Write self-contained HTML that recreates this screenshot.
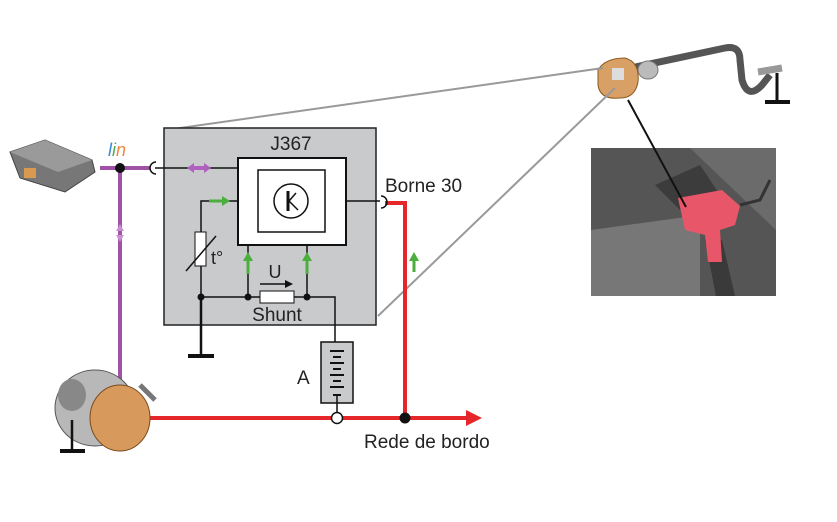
<!DOCTYPE html>
<html><head><meta charset="utf-8"><style>
html,body{margin:0;padding:0;background:#fff;width:837px;height:522px;overflow:hidden}
svg{display:block}
text{font-family:"Liberation Sans",sans-serif;fill:#222}
</style></head><body>
<svg width="837" height="522" viewBox="0 0 837 522" xmlns="http://www.w3.org/2000/svg">
<!-- battery photo -->
<rect x="591" y="148" width="185" height="148" fill="#6b6b6b"/>
<path d="M591,148 L690,148 L776,230 L776,296 L591,296 Z" fill="#555"/>
<path d="M591,230 L700,215 L700,296 L591,296Z" fill="#777"/>
<path d="M655,185 L700,165 L720,195 L680,210Z" fill="#3c3c3c"/>
<path d="M705,240 L722,240 L735,296 L716,296Z" fill="#3a3a3a"/>
<path d="M678,198 L722,190 L740,206 L735,225 L720,230 L722,262 L708,262 L705,235 L685,230Z" fill="#e8566a"/>
<path d="M740,205 L760,200 L770,180" stroke="#333" stroke-width="3" fill="none"/>
<!-- top cable -->
<path d="M612,72 L725,48 Q740,45 740,60 L742,80 Q748,100 762,85 L770,75" stroke="#555" stroke-width="7" fill="none"/>
<path d="M758,72 L782,68" stroke="#999" stroke-width="7"/>
<line x1="777" y1="73" x2="777" y2="102" stroke="#111" stroke-width="3"/>
<line x1="765" y1="102" x2="790" y2="102" stroke="#111" stroke-width="4"/>
<ellipse cx="648" cy="70" rx="10" ry="9" fill="#bbb" stroke="#777"/>
<path d="M598,70 Q605,58 625,58 Q640,62 638,82 Q635,98 620,98 Q600,100 598,85Z" fill="#d9a066" stroke="#8a5a20"/>
<rect x="612" y="68" width="12" height="12" fill="#ddd"/>
<!-- gray lines -->
<line x1="166" y1="130" x2="603" y2="68" stroke="#999" stroke-width="2"/>
<line x1="378" y1="316" x2="615" y2="88" stroke="#999" stroke-width="2"/>
<line x1="628" y1="100" x2="686" y2="207" stroke="#111" stroke-width="2"/>
<!-- main box -->
<rect x="164" y="128" width="212" height="197" fill="#c9cacc" stroke="#222" stroke-width="1.5"/>
<text x="291" y="150" font-size="19" text-anchor="middle">J367</text>
<rect x="238" y="158" width="108" height="87" fill="#fff" stroke="#111" stroke-width="2"/>
<rect x="258" y="170" width="67" height="62" fill="#fff" stroke="#111" stroke-width="1.5"/>
<circle cx="291" cy="201" r="17" fill="#fff" stroke="#111" stroke-width="1.5"/>
<line x1="288" y1="191" x2="288" y2="211" stroke="#111" stroke-width="3"/>
<path d="M289,201 L296,193 M289,201 L298,210" stroke="#111" stroke-width="1.5"/>
<!-- lin -->
<line x1="100" y1="168" x2="150" y2="168" stroke="#a052a6" stroke-width="4"/>
<line x1="120" y1="168" x2="120" y2="400" stroke="#a052a6" stroke-width="4"/>
<path d="M116,231 L120,224 L124,231 Z M116,235 L120,242 L124,235Z" fill="#c890d0"/>
<circle cx="120" cy="168" r="5" fill="#111"/>
<text x="108" y="156" font-size="18" font-style="italic" font-family="Liberation Serif,serif" style="fill:#3a8ad6">l<tspan style="fill:#5a5">i</tspan><tspan style="fill:#e84">n</tspan></text>
<path d="M156,162 A6,6 0 0 0 156,174" stroke="#111" fill="none" stroke-width="1.5"/>
<line x1="155" y1="168" x2="238" y2="168" stroke="#111" stroke-width="1.5"/>
<path d="M187,168 L194,163 L194,173Z M211,168 L204,163 L204,173Z" fill="#b060c0"/>
<rect x="193" y="166" width="12" height="4" fill="#b060c0"/>
<!-- thermistor -->
<polyline points="238,201 201,201 201,297" stroke="#111" fill="none" stroke-width="1.5"/>
<line x1="209" y1="201" x2="223" y2="201" stroke="#4cae3c" stroke-width="3"/>
<path d="M222,196 L230,201 L222,206Z" fill="#4cae3c"/>
<rect x="195" y="232" width="11" height="34" fill="#fff" stroke="#111"/>
<line x1="186" y1="271" x2="216" y2="236" stroke="#111" stroke-width="1.5"/>
<text x="211" y="264" font-size="18">t°</text>
<!-- shunt -->
<polyline points="201,297 335,297 335,342" stroke="#111" fill="none" stroke-width="1.5"/>
<rect x="260" y="291" width="34" height="12" fill="#fff" stroke="#111"/>
<line x1="248" y1="297" x2="248" y2="245" stroke="#111" stroke-width="1.5"/>
<line x1="307" y1="297" x2="307" y2="245" stroke="#111" stroke-width="1.5"/>
<line x1="248" y1="274" x2="248" y2="260" stroke="#4cae3c" stroke-width="3"/>
<path d="M243,261 L248,252 L253,261Z" fill="#4cae3c"/>
<line x1="307" y1="274" x2="307" y2="260" stroke="#4cae3c" stroke-width="3"/>
<path d="M302,261 L307,252 L312,261Z" fill="#4cae3c"/>
<circle cx="201" cy="297" r="3.5" fill="#111"/><circle cx="248" cy="297" r="3.5" fill="#111"/><circle cx="307" cy="297" r="3.5" fill="#111"/>
<text x="275" y="278" font-size="18" text-anchor="middle">U</text>
<line x1="260" y1="284" x2="286" y2="284" stroke="#111" stroke-width="1.5"/><path d="M285,280 L293,284 L285,288Z" fill="#111"/>
<text x="277" y="321" font-size="19" text-anchor="middle">Shunt</text>
<!-- ground -->
<line x1="201" y1="297" x2="201" y2="355" stroke="#111" stroke-width="2.5"/>
<line x1="188" y1="356" x2="214" y2="356" stroke="#111" stroke-width="4"/>
<!-- battery -->
<rect x="321" y="342" width="32" height="61" fill="#c9cacc" stroke="#111" stroke-width="1.5"/>
<g stroke="#111" stroke-width="2">
<line x1="330" y1="351" x2="344" y2="351"/><line x1="333" y1="357" x2="341" y2="357"/>
<line x1="330" y1="363" x2="344" y2="363"/><line x1="333" y1="369" x2="341" y2="369"/>
<line x1="330" y1="375" x2="344" y2="375"/><line x1="333" y1="381" x2="341" y2="381"/>
<line x1="330" y1="387" x2="344" y2="387"/><line x1="333" y1="395" x2="341" y2="395"/>
</g>
<text x="297" y="384" font-size="19">A</text>
<line x1="337" y1="395" x2="337" y2="413" stroke="#111" stroke-width="1.5"/>
<!-- red -->
<polyline points="385,203 405,203 405,418" stroke="#e5262a" fill="none" stroke-width="4"/>
<line x1="145" y1="418" x2="470" y2="418" stroke="#e5262a" stroke-width="4"/>
<path d="M466,410 L482,418 L466,426Z" fill="#e5262a"/>
<circle cx="405" cy="418" r="5.5" fill="#111"/>
<circle cx="337" cy="418" r="5.5" fill="#fff" stroke="#111" stroke-width="1.5"/>
<line x1="346" y1="201" x2="380" y2="201" stroke="#111" stroke-width="1.5"/>
<path d="M381,196 A6,6 0 0 1 381,208" stroke="#111" fill="none" stroke-width="1.5"/>
<line x1="414" y1="272" x2="414" y2="260" stroke="#4cae3c" stroke-width="3"/>
<path d="M409,261 L414,252 L419,261Z" fill="#4cae3c"/>
<text x="385" y="192" font-size="19">Borne 30</text>
<text x="364" y="448" font-size="19">Rede de bordo</text>
<!-- ECU -->
<path d="M10,152 L45,140 L92,160 L95,172 L65,192 L20,178 Z" fill="#777" stroke="#444"/>
<path d="M10,152 L45,140 L92,160 L58,172Z" fill="#9a9a9a"/>
<rect x="24" y="168" width="12" height="10" fill="#d89a50"/>
<!-- alternator -->
<ellipse cx="95" cy="408" rx="40" ry="38" fill="#b8b8b8" stroke="#555"/>
<ellipse cx="72" cy="395" rx="14" ry="16" fill="#888"/>
<ellipse cx="120" cy="418" rx="30" ry="33" fill="#d89a5c" stroke="#7a4a1c"/>
<path d="M140,385 L155,400" stroke="#777" stroke-width="5"/>
<line x1="72" y1="420" x2="72" y2="450" stroke="#111" stroke-width="2.5"/>
<line x1="60" y1="451" x2="85" y2="451" stroke="#111" stroke-width="4"/>
</svg>
</body></html>
